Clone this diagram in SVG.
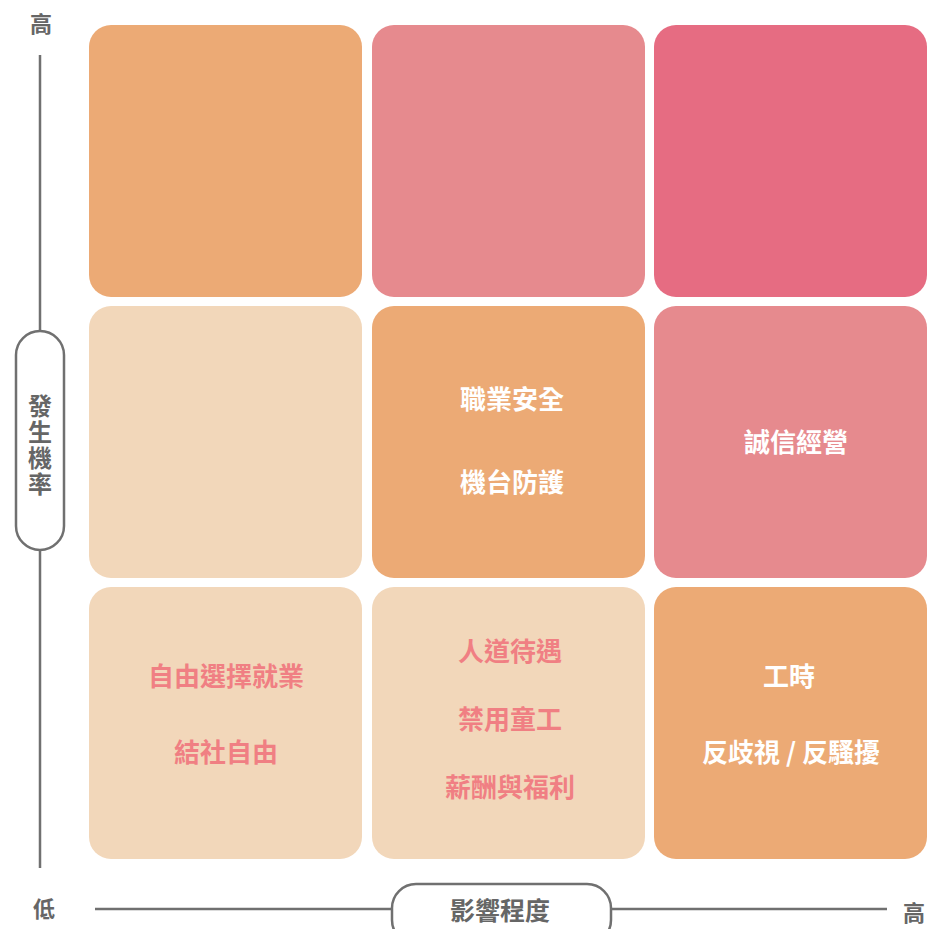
<svg xmlns="http://www.w3.org/2000/svg" width="944" height="929" viewBox="0 0 944 929">
<style>
.cell{stroke:none}
.o{fill:#ECAA75}.p{fill:#E68A8E}.d{fill:#E66C82}.l{fill:#F2D7BA}
text{font-family:"Noto Sans CJK TC","Noto Sans CJK SC",sans-serif;text-anchor:middle;dominant-baseline:central}
.w{fill:#FFFFFF;font-size:26px;font-weight:600}
.r{fill:#F07F83;font-size:26px;font-weight:600}
.ax{fill:#666666;font-size:25px;font-weight:600}
.ax2{fill:#666666;font-size:22px;font-weight:600}
.vt{fill:#666666;font-size:24px;font-weight:600;writing-mode:vertical-rl;letter-spacing:2px}
.line{stroke:#707070;stroke-width:2.5;fill:none}
.pill{stroke:#707070;stroke-width:2.5;fill:#FFFFFF}
</style>
<g id="axes">
<line class="line" x1="40" y1="55" x2="40" y2="331"/>
<line class="line" x1="40" y1="550" x2="40" y2="868"/>
<rect class="pill" x="16" y="331" width="48" height="219" rx="24"/>
<line class="line" x1="95" y1="909" x2="392" y2="909"/>
<line class="line" x1="611" y1="909" x2="887" y2="909"/>
<rect class="pill" x="392" y="884" width="219" height="60" rx="24"/>
<text class="ax2" x="41" y="22">高</text>
<text class="ax2" x="44" y="907">低</text>
<text class="ax2" x="914" y="911">高</text>
<text class="ax" x="500" y="909">影響程度</text>
<text class="vt" x="40" y="446">發生機率</text>
</g>
<g id="c11"><rect class="cell o" x="89" y="25" width="273" height="272" rx="22"/></g>
<g id="c12"><rect class="cell p" x="372" y="25" width="273" height="272" rx="22"/></g>
<g id="c13"><rect class="cell d" x="654" y="25" width="273" height="272" rx="22"/></g>
<g id="c21"><rect class="cell l" x="89" y="306" width="273" height="272" rx="22"/></g>
<g id="c22"><rect class="cell o" x="372" y="306" width="273" height="272" rx="22"/>
<text class="w" x="512" y="397">職業安全</text>
<text class="w" x="512" y="480">機台防護</text></g>
<g id="c23"><rect class="cell p" x="654" y="306" width="273" height="272" rx="22"/>
<text class="w" x="796" y="440">誠信經營</text></g>
<g id="c31"><rect class="cell l" x="89" y="587" width="273" height="272" rx="22"/>
<text class="r" x="226" y="674">自由選擇就業</text>
<text class="r" x="226" y="750">結社自由</text></g>
<g id="c32"><rect class="cell l" x="372" y="587" width="273" height="272" rx="22"/>
<text class="r" x="510" y="649">人道待遇</text>
<text class="r" x="510" y="717">禁用童工</text>
<text class="r" x="510" y="785">薪酬與福利</text></g>
<g id="c33"><rect class="cell o" x="654" y="587" width="273" height="272" rx="22"/>
<text class="w" x="789" y="674">工時</text>
<text class="w" x="791" y="750">反歧視 / 反騷擾</text></g>
</svg>
